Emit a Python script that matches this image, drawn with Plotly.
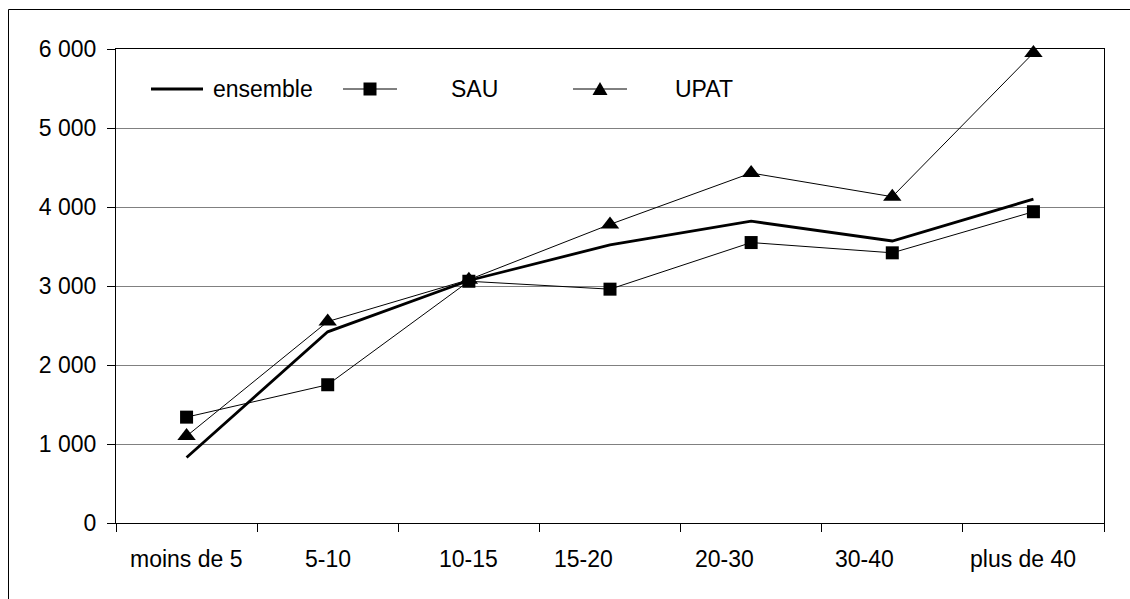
import plotly.graph_objects as go

# ---- data -------------------------------------------------------------
categories = ["moins de 5", "5-10", "10-15", "15-20", "20-30", "30-40", "plus de 40"]
ensemble = [830, 2420, 3070, 3520, 3820, 3570, 4100]
sau = [1340, 1750, 3060, 2960, 3550, 3420, 3940]
upat = [1100, 2550, 3080, 3780, 4430, 4130, 5950]
y_ticks = [0, 1000, 2000, 3000, 4000, 5000, 6000]
y_tick_labels = ["0", "1 000", "2 000", "3 000", "4 000", "5 000", "6 000"]

# ---- geometry (pixels) ------------------------------------------------
W_FIG, H_FIG = 1130, 599
L, R, T, B = 116, 1104, 49, 523
PW, PH = R - L, B - T
FONT = "Liberation Sans, Arial, sans-serif"
FS = 23


def px(xp):
    return (xp - L) / PW


def py(yp):
    return (B - yp) / PH


xs = list(range(len(categories)))

fig = go.Figure()
fig.add_trace(go.Scatter(
    x=xs, y=sau, name="SAU", mode="lines+markers",
    line=dict(color="black", width=1),
    marker=dict(symbol="square", size=13, color="black"),
    cliponaxis=False,
))
fig.add_trace(go.Scatter(
    x=xs, y=upat, name="UPAT", mode="lines+markers",
    line=dict(color="black", width=1),
    marker=dict(symbol="triangle-up", size=16, color="black"),
    cliponaxis=False,
))
fig.add_trace(go.Scatter(
    x=xs, y=ensemble, name="ensemble", mode="lines",
    line=dict(color="black", width=2.8),
))

# category labels under the axis (Excel-style placement)
label_shift = [0, 0, 0, -27, -27, -28, -10]
annotations = []
for i, lab in enumerate(categories):
    annotations.append(dict(
        x=i, y=0, xref="x", yref="paper", text=lab, showarrow=False,
        xanchor="center", yanchor="middle", xshift=label_shift[i], yshift=-36,
        font=dict(family=FONT, size=FS, color="black"),
    ))

# hand-built legend inside the plot
LEG_Y = 89
shapes = []
# outer chart frame
shapes.append(dict(type="rect", xref="paper", yref="paper",
                   x0=px(8.5), x1=px(1140), y0=py(9.5), y1=py(610),
                   line=dict(color="black", width=1), layer="below"))
legend_items = [
    # (line start, line end, marker, text start, label, line width)
    (151, 203, None, 211, "ensemble", 2.8),
    (343, 397, "square", 449, "SAU", 1),
    (573, 627, "triangle", 673, "UPAT", 1),
]
for x0, x1, mk, tx, lab, lw in legend_items:
    shapes.append(dict(type="line", xref="paper", yref="paper",
                       x0=px(x0), x1=px(x1), y0=py(LEG_Y), y1=py(LEG_Y),
                       line=dict(color="black", width=lw)))
    cx = px((x0 + x1) / 2)
    if mk == "square":
        shapes.append(dict(type="rect", xref="paper", yref="paper",
                           xsizemode="pixel", ysizemode="pixel",
                           xanchor=cx, yanchor=py(LEG_Y),
                           x0=-6.5, x1=6.5, y0=-6.5, y1=6.5,
                           fillcolor="black", line=dict(width=0)))
    elif mk == "triangle":
        shapes.append(dict(type="path", xref="paper", yref="paper",
                           xsizemode="pixel", ysizemode="pixel",
                           xanchor=cx, yanchor=py(LEG_Y),
                           path="M -7.5 -6 L 7.5 -6 L 0 7 Z",
                           fillcolor="black", line=dict(width=0)))
    annotations.append(dict(
        x=px(tx), y=py(LEG_Y), xref="paper", yref="paper", text=lab,
        showarrow=False, xanchor="left", yanchor="middle",
        font=dict(family=FONT, size=FS, color="black"),
    ))

fig.update_layout(
    width=W_FIG, height=H_FIG,
    margin=dict(l=L, r=W_FIG - R, t=T, b=H_FIG - B, pad=0),
    paper_bgcolor="white", plot_bgcolor="white",
    showlegend=False,
    font=dict(family=FONT, size=FS, color="black"),
    annotations=annotations,
    shapes=shapes,
    xaxis=dict(
        range=[-0.5, len(categories) - 0.5],
        tickvals=[i - 0.5 for i in range(len(categories) + 1)],
        showticklabels=False,
        ticks="outside", ticklen=8, tickcolor="black", tickwidth=1,
        showgrid=False, zeroline=False,
        showline=True, linecolor="black", linewidth=1, mirror=True,
    ),
    yaxis=dict(
        range=[0, 6000],
        tickvals=y_ticks, ticktext=y_tick_labels,
        ticks="outside", ticklen=8, tickcolor="black", tickwidth=1,
        ticklabelstandoff=6,
        showgrid=True, gridcolor="#808080", gridwidth=1,
        zeroline=False,
        showline=True, linecolor="black", linewidth=1, mirror=True,
        tickfont=dict(family=FONT, size=FS, color="black"),
    ),
)

fig.write_html("out.html")
